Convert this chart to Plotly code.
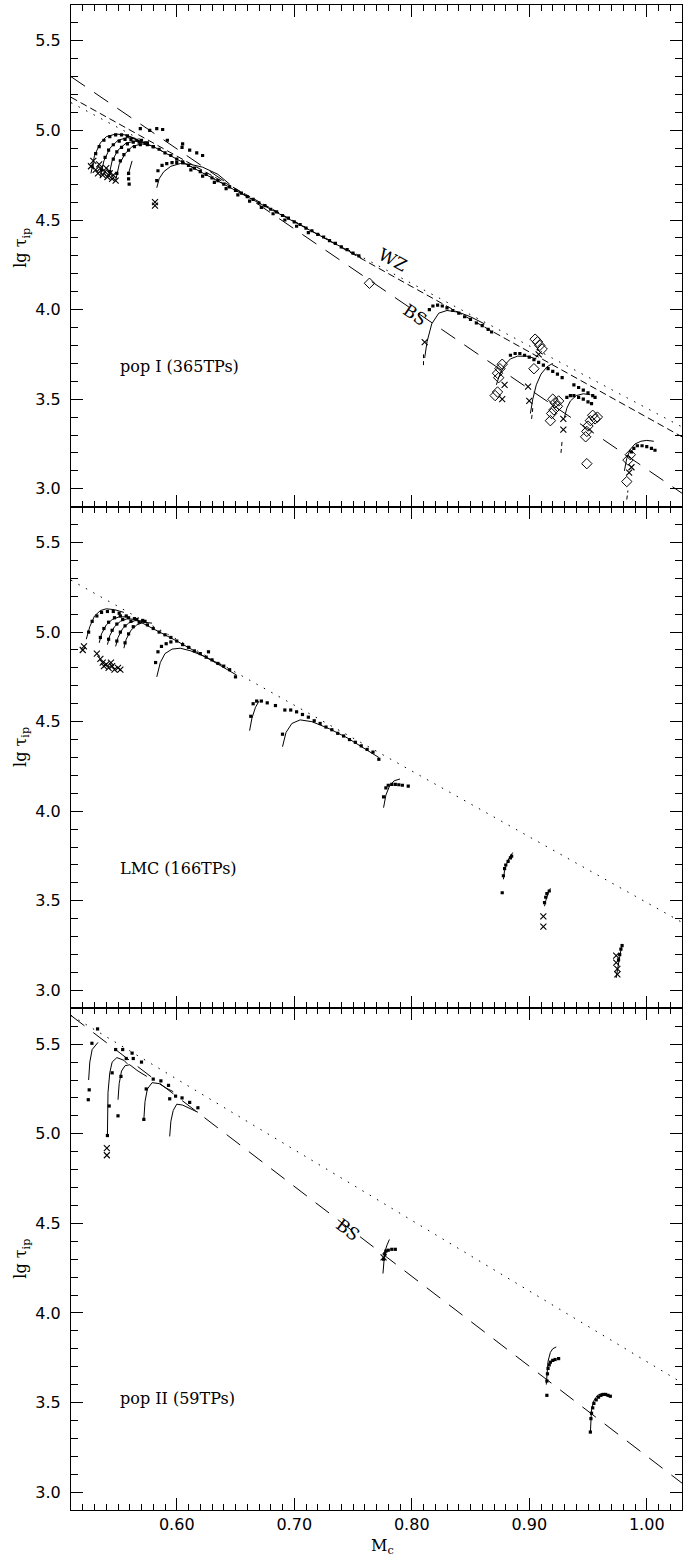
import plotly.graph_objects as go
from plotly.subplots import make_subplots

# ---------------- reference relations (straight lines) ----------------
P1_BS_X = [0.51, 1.03]; P1_BS_Y = [5.30, 2.975]
P1_MD_X = [0.51, 1.03]; P1_MD_Y = [5.185, 3.29]
P1_WZ_X = [0.51, 1.03]; P1_WZ_Y = [5.155, 3.345]
P2_WZ_X = [0.51, 1.03]; P2_WZ_Y = [5.29, 3.38]
P3_WZ_X = [0.51, 1.03]; P3_WZ_Y = [5.66, 3.61]
P3_BS_X = [0.51, 1.03]; P3_BS_Y = [5.66, 3.05]

# ---------------- panel 1 : pop I ----------------
P1_MODEL_X = [
    [0.527, 0.530, 0.535, 0.540, 0.548, 0.556, 0.565],
    [0.535, 0.538, 0.543, 0.550, 0.558, 0.566],
    [0.542, 0.545, 0.550, 0.557, 0.565, 0.572],
    [0.548, 0.551, 0.556, 0.562, 0.570, 0.578],
    [0.556, 0.580, 0.620, 0.660, 0.700, 0.740, 0.757],
    [0.5585, 0.560, 0.561, 0.562],
    [0.583, 0.585, 0.589, 0.595, 0.603, 0.612, 0.622, 0.635, 0.645],
    [0.811, 0.813, 0.817, 0.823, 0.830, 0.840, 0.850, 0.862],
    [0.872, 0.875, 0.879, 0.884, 0.890, 0.898, 0.906],
    [0.901, 0.903, 0.906, 0.910, 0.915, 0.920],
    [0.930, 0.932, 0.935, 0.940, 0.946, 0.952],
    [0.981, 0.983, 0.986, 0.990, 0.995, 1.000, 1.006],
]
P1_MODEL_Y = [
    [4.76, 4.86, 4.93, 4.965, 4.98, 4.975, 4.955],
    [4.74, 4.83, 4.90, 4.945, 4.96, 4.95],
    [4.74, 4.83, 4.89, 4.93, 4.94, 4.93],
    [4.72, 4.81, 4.87, 4.91, 4.925, 4.915],
    [4.975, 4.91, 4.77, 4.63, 4.49, 4.35, 4.29],
    [4.75, 4.78, 4.81, 4.83],
    [4.68, 4.73, 4.77, 4.80, 4.815, 4.81, 4.795, 4.755, 4.70],
    [3.73, 3.82, 3.92, 3.98, 3.995, 3.985, 3.96, 3.92],
    [3.58, 3.64, 3.69, 3.725, 3.74, 3.74, 3.725],
    [3.42, 3.50, 3.58, 3.64, 3.68, 3.70],
    [3.40, 3.45, 3.49, 3.52, 3.53, 3.525],
    [3.10, 3.17, 3.22, 3.25, 3.265, 3.27, 3.265],
]
P1_PRE_X = [[0.810, 0.810], [0.902, 0.903], [0.927, 0.928], [0.983, 0.984]]
P1_PRE_Y = [[3.69, 3.75], [3.39, 3.45], [3.20, 3.27], [2.94, 2.99]]

P1_DOT_X = [
    0.528, 0.531, 0.534, 0.538, 0.543, 0.548, 0.553, 0.558,
    0.536, 0.539, 0.542, 0.546, 0.551, 0.556, 0.561, 0.566,
    0.543, 0.546, 0.549, 0.553, 0.558, 0.563, 0.568, 0.573,
    0.549, 0.552, 0.555, 0.559, 0.564, 0.569, 0.575, 0.580,
    0.569, 0.577, 0.583, 0.588, 0.592, 0.605, 0.6045, 0.611, 0.617, 0.622,
    0.570, 0.575, 0.580, 0.585, 0.590, 0.595, 0.600, 0.605, 0.610, 0.615,
    0.620, 0.625, 0.630, 0.635, 0.640, 0.645, 0.650, 0.655, 0.660, 0.665,
    0.670, 0.675, 0.680, 0.685, 0.690, 0.695, 0.700, 0.705, 0.710, 0.715,
    0.720, 0.725, 0.730, 0.735, 0.740, 0.745, 0.750, 0.755,
    0.612, 0.622, 0.632, 0.642, 0.652, 0.662, 0.672, 0.682, 0.692, 0.702, 0.712,
    0.559, 0.559, 0.5595,
    0.583, 0.584, 0.5875, 0.5915, 0.596, 0.600, 0.605,
    0.815, 0.818, 0.822, 0.826, 0.830, 0.835, 0.840, 0.845, 0.850, 0.855, 0.860, 0.865, 0.868,
    0.884, 0.888, 0.892, 0.896, 0.900, 0.904, 0.908, 0.912, 0.916, 0.920, 0.924, 0.928,
    0.938, 0.942, 0.946, 0.950, 0.954, 0.956,
    0.932, 0.935, 0.938, 0.942, 0.946, 0.950, 0.953,
    0.987, 0.989, 0.992, 0.996, 1.000, 1.004, 1.007,
]
P1_DOT_Y = [
    4.80, 4.87, 4.91, 4.945, 4.965, 4.975, 4.975, 4.97,
    4.78, 4.85, 4.89, 4.92, 4.94, 4.95, 4.95, 4.945,
    4.77, 4.84, 4.88, 4.905, 4.925, 4.935, 4.935, 4.93,
    4.76, 4.83, 4.865, 4.89, 4.91, 4.92, 4.92, 4.91,
    5.01, 5.00, 5.01, 5.005, 4.945, 4.925, 4.905, 4.89, 4.875, 4.86,
    4.945, 4.93, 4.91, 4.895, 4.875, 4.86, 4.84, 4.825, 4.805, 4.79,
    4.77, 4.755, 4.735, 4.72, 4.70, 4.685, 4.665, 4.65, 4.63, 4.615,
    4.595, 4.58, 4.56, 4.545, 4.525, 4.51, 4.49, 4.475, 4.455, 4.44,
    4.42, 4.405, 4.385, 4.37, 4.35, 4.335, 4.315, 4.30,
    4.78, 4.745, 4.71, 4.675, 4.64, 4.605, 4.57, 4.535, 4.50, 4.465, 4.43,
    4.76, 4.73, 4.70,
    4.72, 4.775, 4.805, 4.815, 4.82, 4.82, 4.82,
    4.00, 4.02, 4.025, 4.02, 4.01, 3.995, 3.98, 3.96, 3.945, 3.925, 3.91, 3.89, 3.875,
    3.745, 3.755, 3.755, 3.745, 3.735, 3.72, 3.705, 3.69, 3.67, 3.655, 3.64, 3.62,
    3.58, 3.565, 3.55, 3.535, 3.52, 3.51,
    3.51, 3.52, 3.52, 3.51, 3.50, 3.485, 3.475,
    3.205, 3.225, 3.24, 3.24, 3.235, 3.225, 3.215,
]
P1_CROSS_X = [0.527, 0.529, 0.531, 0.533, 0.535, 0.537, 0.539, 0.541, 0.543, 0.545,
              0.546, 0.548, 0.534, 0.540, 0.5815, 0.5815,
              0.811, 0.879, 0.877, 0.899, 0.900, 0.929, 0.929, 0.987, 0.985, 0.908]
P1_CROSS_Y = [4.80, 4.83, 4.78, 4.76, 4.79, 4.75, 4.77, 4.74, 4.76, 4.73,
              4.75, 4.72, 4.81, 4.79, 4.60, 4.58,
              3.818, 3.58, 3.50, 3.57, 3.49, 3.39, 3.33, 3.12, 3.09, 3.75]
P1_DIAM_X = [0.764, 0.875, 0.873, 0.877, 0.874, 0.873, 0.871, 0.907, 0.909, 0.911,
             0.905, 0.904, 0.920, 0.922, 0.924, 0.921, 0.919, 0.925, 0.918, 0.954,
             0.952, 0.950, 0.949, 0.948, 0.956, 0.958, 0.949, 0.984, 0.986, 0.983]
P1_DIAM_Y = [4.147, 3.67, 3.645, 3.695, 3.62, 3.54, 3.52, 3.82, 3.80, 3.78,
             3.835, 3.67, 3.50, 3.48, 3.46, 3.44, 3.42, 3.49, 3.38, 3.41,
             3.38, 3.35, 3.32, 3.29, 3.39, 3.40, 3.14, 3.16, 3.19, 3.04]

# ---------------- panel 2 : LMC ----------------
P2_MODEL_X = [
    [0.523, 0.526, 0.530, 0.535, 0.540, 0.547, 0.555],
    [0.534, 0.536, 0.540, 0.545, 0.551, 0.558],
    [0.541, 0.543, 0.547, 0.552, 0.558, 0.565],
    [0.548, 0.550, 0.554, 0.559, 0.565, 0.572],
    [0.555, 0.557, 0.561, 0.566, 0.572, 0.579],
    [0.565, 0.600, 0.630, 0.651],
    [0.583, 0.586, 0.590, 0.596, 0.603, 0.612, 0.625, 0.640],
    [0.662, 0.664, 0.667, 0.670],
    [0.690, 0.693, 0.698, 0.705, 0.715, 0.730, 0.745, 0.760, 0.772],
    [0.776, 0.778, 0.781, 0.785, 0.790],
    [0.878, 0.879, 0.881, 0.883, 0.886],
    [0.913, 0.914, 0.916, 0.918],
    [0.974, 0.975, 0.977, 0.979],
]
P2_MODEL_Y = [
    [4.96, 5.03, 5.09, 5.12, 5.13, 5.125, 5.11],
    [4.94, 4.99, 5.04, 5.07, 5.085, 5.085],
    [4.93, 4.98, 5.03, 5.06, 5.075, 5.07],
    [4.92, 4.97, 5.02, 5.05, 5.065, 5.06],
    [4.91, 4.96, 5.01, 5.04, 5.055, 5.05],
    [5.07, 4.95, 4.84, 4.76],
    [4.75, 4.83, 4.88, 4.905, 4.91, 4.895, 4.86, 4.81],
    [4.45, 4.52, 4.58, 4.615],
    [4.36, 4.44, 4.49, 4.51, 4.50, 4.46, 4.41, 4.35, 4.30],
    [4.02, 4.09, 4.14, 4.17, 4.18],
    [3.62, 3.67, 3.71, 3.74, 3.77],
    [3.47, 3.50, 3.54, 3.57],
    [3.07, 3.12, 3.19, 3.26],
]
P2_DOT_X = [
    0.525, 0.528, 0.532, 0.536, 0.541, 0.546, 0.551,
    0.535, 0.538, 0.542, 0.547, 0.552, 0.557,
    0.542, 0.545, 0.549, 0.554, 0.559, 0.564,
    0.549, 0.552, 0.556, 0.561, 0.566, 0.571,
    0.556, 0.559, 0.563, 0.568, 0.573,
    0.575, 0.580, 0.585, 0.590, 0.595, 0.600, 0.605, 0.610, 0.615, 0.620,
    0.625, 0.630, 0.635, 0.640, 0.645, 0.650, 0.627,
    0.582, 0.584, 0.587, 0.591, 0.595,
    0.663, 0.665, 0.668, 0.672, 0.677, 0.684,
    0.690, 0.692, 0.697, 0.702, 0.707, 0.712, 0.717, 0.722, 0.727, 0.732,
    0.737, 0.742, 0.747, 0.752, 0.757, 0.762, 0.767, 0.772,
    0.776, 0.778, 0.780, 0.783, 0.786, 0.789, 0.792, 0.797,
    0.878, 0.879, 0.880, 0.882, 0.884, 0.885, 0.877,
    0.913, 0.914, 0.915, 0.917,
    0.976, 0.977, 0.978, 0.979,
]
P2_DOT_Y = [
    5.00, 5.06, 5.09, 5.11, 5.115, 5.115, 5.105,
    4.97, 5.02, 5.055, 5.08, 5.09, 5.09,
    4.96, 5.01, 5.045, 5.07, 5.08, 5.075,
    4.95, 5.00, 5.035, 5.06, 5.07, 5.065,
    4.94, 4.99, 5.03, 5.055, 5.06,
    5.04, 5.02, 5.00, 4.985, 4.97, 4.95, 4.93, 4.915, 4.895, 4.88,
    4.86, 4.845, 4.825, 4.81, 4.79, 4.75, 4.89,
    4.83, 4.89, 4.92, 4.935, 4.945,
    4.53, 4.60, 4.615, 4.615, 4.605, 4.59,
    4.43, 4.565, 4.565, 4.555, 4.54, 4.525, 4.505, 4.49, 4.47, 4.455,
    4.435, 4.42, 4.40, 4.385, 4.365, 4.345, 4.33, 4.29,
    4.08, 4.13, 4.145, 4.15, 4.15, 4.148, 4.145, 4.14,
    3.64, 3.68, 3.70, 3.72, 3.74, 3.75, 3.545,
    3.49, 3.52, 3.54, 3.555,
    3.17, 3.20, 3.23, 3.25,
]
P2_CROSS_X = [0.520, 0.521, 0.532, 0.535, 0.537, 0.540, 0.542, 0.545, 0.547, 0.550,
              0.552, 0.538, 0.544, 0.912, 0.912, 0.974, 0.974, 0.975, 0.975]
P2_CROSS_Y = [4.90, 4.92, 4.88, 4.85, 4.83, 4.82, 4.80, 4.81, 4.79, 4.80,
              4.79, 4.81, 4.83, 3.413, 3.356, 3.194, 3.155, 3.12, 3.09]

# ---------------- panel 3 : pop II ----------------
P3_MODEL_X = [
    [0.525, 0.526, 0.528, 0.533],
    [0.541, 0.5415, 0.543, 0.545, 0.549, 0.555, 0.558],
    [0.550, 0.551, 0.553, 0.556, 0.560, 0.567, 0.5745],
    [0.572, 0.573, 0.575, 0.579, 0.585, 0.591, 0.597],
    [0.594, 0.595, 0.597, 0.600, 0.605, 0.611, 0.618],
    [0.7755, 0.776, 0.777, 0.779, 0.781],
    [0.9145, 0.915, 0.916, 0.918, 0.920, 0.923],
    [0.952, 0.9525, 0.953, 0.955, 0.958, 0.962, 0.966],
]
P3_MODEL_Y = [
    [5.30, 5.40, 5.47, 5.51],
    [4.995, 5.23, 5.34, 5.40, 5.425, 5.41, 5.39],
    [5.19, 5.28, 5.35, 5.38, 5.385, 5.35, 5.32],
    [5.08, 5.18, 5.25, 5.285, 5.28, 5.255, 5.235],
    [4.985, 5.07, 5.13, 5.165, 5.16, 5.14, 5.12],
    [4.22, 4.28, 4.34, 4.38, 4.41],
    [3.60, 3.67, 3.73, 3.78, 3.80, 3.81],
    [3.33, 3.40, 3.46, 3.51, 3.54, 3.55, 3.545],
]
P3_DOT_X = [
    0.5247, 0.5255, 0.5278, 0.5326,
    0.541, 0.5425, 0.545, 0.548, 0.554, 0.562, 0.563, 0.557,
    0.550, 0.5525, 0.570,
    0.572, 0.574, 0.580, 0.5865, 0.593,
    0.594, 0.599, 0.6045, 0.611, 0.618,
    0.776, 0.777, 0.778, 0.780, 0.783, 0.786,
    0.915, 0.9155, 0.916, 0.917, 0.918, 0.920, 0.922, 0.925, 0.915,
    0.952, 0.9525, 0.953, 0.954, 0.955, 0.957, 0.959, 0.961, 0.963, 0.965, 0.967, 0.969,
]
P3_DOT_Y = [
    5.19, 5.245, 5.505, 5.585,
    4.99, 5.155, 5.34, 5.47, 5.47, 5.45, 5.42, 5.42,
    5.10, 5.32, 5.40,
    5.08, 5.25, 5.305, 5.295, 5.27,
    5.195, 5.21, 5.20, 5.175, 5.145,
    4.30, 4.33, 4.345, 4.35, 4.355, 4.355,
    3.62, 3.66, 3.69, 3.71, 3.725, 3.735, 3.74, 3.745, 3.54,
    3.335, 3.41, 3.44, 3.47, 3.495, 3.515, 3.53, 3.54, 3.545, 3.545, 3.54, 3.535,
]
P3_CROSS_X = [0.5405, 0.5405, 0.776]
P3_CROSS_Y = [4.92, 4.88, 4.31]

X_RANGE = [0.51, 1.03]
Y_RANGE = [2.9, 5.7]

fig = make_subplots(rows=3, cols=1, shared_xaxes=True, vertical_spacing=0)

BLACK = "black"


def joined(xs_list, ys_list):
    X, Y = [], []
    for xs, ys in zip(xs_list, ys_list):
        X += list(xs) + [None]
        Y += list(ys) + [None]
    return X, Y


def add_line(row, xs, ys, dash="solid", width=1.0):
    fig.add_trace(go.Scatter(x=xs, y=ys, mode="lines",
                             line=dict(color=BLACK, width=width, dash=dash),
                             hoverinfo="skip", showlegend=False), row=row, col=1)


def add_markers(row, xs, ys, symbol, size, lw=1.0):
    fig.add_trace(go.Scatter(x=xs, y=ys, mode="markers",
                             marker=dict(symbol=symbol, size=size, color=BLACK,
                                         line=dict(color=BLACK, width=lw)),
                             hoverinfo="skip", showlegend=False), row=row, col=1)

LONG = "17px,11px"
MED = "7px,4px"
DOT = "1.5px,7px"

# panel 1
add_line(1, P1_BS_X, P1_BS_Y, LONG)
add_line(1, P1_MD_X, P1_MD_Y, MED)
add_line(1, P1_WZ_X, P1_WZ_Y, DOT)
mx, my = joined(P1_MODEL_X, P1_MODEL_Y)
add_line(1, mx, my, "solid", 1.0)
px_, py_ = joined(P1_PRE_X, P1_PRE_Y)
add_line(1, px_, py_, "4px,3px", 1.0)
add_markers(1, P1_DOT_X, P1_DOT_Y, "square", 3.2, 0)
add_markers(1, P1_CROSS_X, P1_CROSS_Y, "x-thin", 6, 1.1)
add_markers(1, P1_DIAM_X, P1_DIAM_Y, "diamond-open", 8, 1.0)

# panel 2
add_line(2, P2_WZ_X, P2_WZ_Y, DOT)
mx, my = joined(P2_MODEL_X, P2_MODEL_Y)
add_line(2, mx, my, "solid", 1.0)
add_markers(2, P2_DOT_X, P2_DOT_Y, "square", 3.2, 0)
add_markers(2, P2_CROSS_X, P2_CROSS_Y, "x-thin", 6, 1.1)

# panel 3
add_line(3, P3_WZ_X, P3_WZ_Y, DOT)
add_line(3, P3_BS_X, P3_BS_Y, LONG)
mx, my = joined(P3_MODEL_X, P3_MODEL_Y)
add_line(3, mx, my, "solid", 1.0)
add_markers(3, P3_DOT_X, P3_DOT_Y, "square", 3.2, 0)
add_markers(3, P3_CROSS_X, P3_CROSS_Y, "x-thin", 6, 1.1)

TICKFONT = dict(family="DejaVu Sans", size=16, color=BLACK)
SERIF = "DejaVu Serif"

for r in (1, 2, 3):
    fig.update_xaxes(row=r, col=1, range=X_RANGE, tickmode="linear", tick0=0.6, dtick=0.1,
                     tickformat=".2f", ticks="inside", ticklen=12, tickwidth=1, tickcolor=BLACK,
                     minor=dict(dtick=0.01, tick0=0.5, ticks="inside", ticklen=6, tickwidth=1,
                                tickcolor=BLACK, showgrid=False),
                     showline=True, linecolor=BLACK, linewidth=1, mirror="allticks",
                     showgrid=False, zeroline=False, tickfont=TICKFONT,
                     showticklabels=(r == 3))
    fig.update_yaxes(row=r, col=1, range=Y_RANGE, tickmode="linear", tick0=3.0, dtick=0.5,
                     tickformat=".1f", ticks="inside", ticklen=12, tickwidth=1, tickcolor=BLACK,
                     minor=dict(dtick=0.1, tick0=3.0, ticks="inside", ticklen=7, tickwidth=1,
                                tickcolor=BLACK, showgrid=False),
                     showline=True, linecolor=BLACK, linewidth=1, mirror="allticks",
                     showgrid=False, zeroline=False, tickfont=TICKFONT,
                     ticklabelstandoff=6)

annotations = []
for yref, yfrac in (("y domain", 0.515), ("y2 domain", 0.52), ("y3 domain", 0.50)):
    annotations.append(dict(text="lg τ<sub>ip</sub>", xref="paper", x=-0.081, xanchor="center",
                            yref=yref, y=yfrac, yanchor="middle", textangle=-90, showarrow=False,
                            font=dict(family=SERIF, size=16, color=BLACK)))
annotations.append(dict(text="M<sub>c</sub>", xref="x3", x=0.7755, xanchor="center",
                        yref="paper", y=-0.024, yanchor="middle", showarrow=False,
                        font=dict(family=SERIF, size=16, color=BLACK)))
annotations += [
    dict(text="pop I (365TPs)", xref="x", yref="y", x=0.55, y=3.68, xanchor="left",
         yanchor="middle", showarrow=False, font=dict(family=SERIF, size=16, color=BLACK)),
    dict(text="LMC (166TPs)", xref="x2", yref="y2", x=0.55, y=3.68, xanchor="left",
         yanchor="middle", showarrow=False, font=dict(family=SERIF, size=16, color=BLACK)),
    dict(text="pop II (59TPs)", xref="x3", yref="y3", x=0.55, y=3.52, xanchor="left",
         yanchor="middle", showarrow=False, font=dict(family=SERIF, size=16, color=BLACK)),
    dict(text="WZ", xref="x", yref="y", x=0.784, y=4.275, textangle=28, showarrow=False,
         font=dict(family=SERIF, size=17, color=BLACK)),
    dict(text="BS", xref="x", yref="y", x=0.803, y=3.97, textangle=34, showarrow=False,
         font=dict(family=SERIF, size=17, color=BLACK)),
    dict(text="BS", xref="x3", yref="y3", x=0.746, y=4.465, textangle=37, showarrow=False,
         font=dict(family=SERIF, size=17, color=BLACK)),
]

fig.update_layout(width=693, height=1558, margin=dict(l=71, r=11, t=5, b=48),
                  plot_bgcolor="white", paper_bgcolor="white", showlegend=False,
                  annotations=annotations)

fig.write_html("out.html", config={"displayModeBar": False},
               post_script="document.body.style.margin='0px';document.body.style.padding='0px';")
